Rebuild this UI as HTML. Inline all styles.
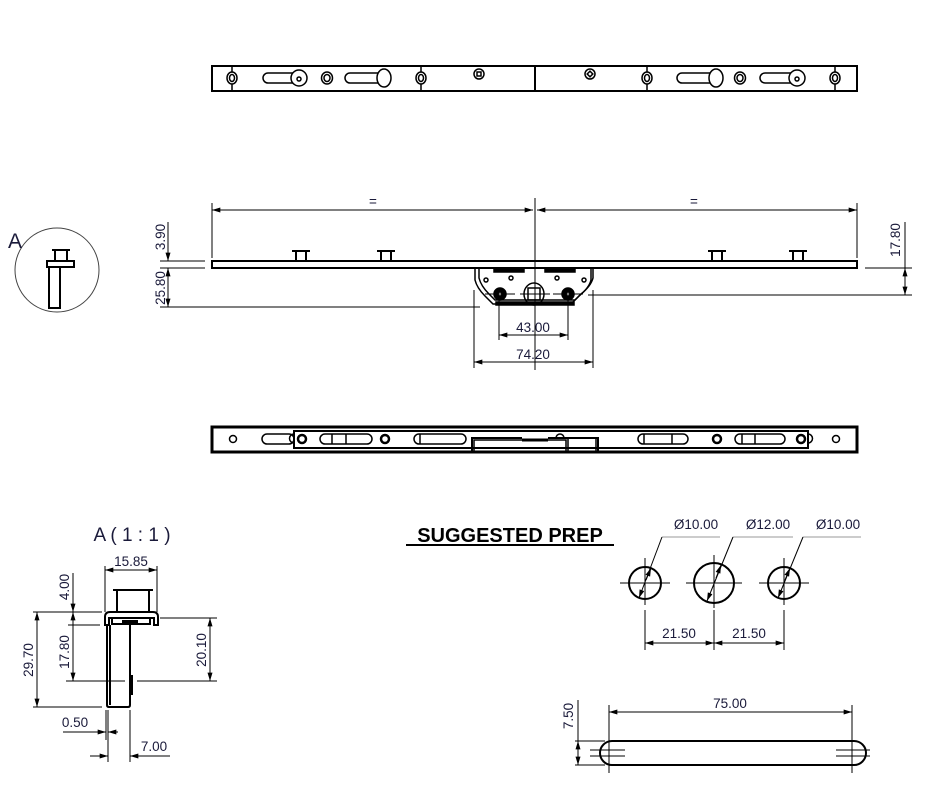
<!DOCTYPE html>
<html><head><meta charset="utf-8"><style>
html,body{margin:0;padding:0;background:#fff;}
svg{display:block;}
text{font-family:"Liberation Sans",sans-serif;fill:#1a1a3a;}
</style></head><body>
<svg width="938" height="793" viewBox="0 0 938 793" xmlns="http://www.w3.org/2000/svg">
<defs>
<marker id="ar" viewBox="0 0 10 6" refX="10" refY="3" markerWidth="9" markerHeight="5" orient="auto-start-reverse" markerUnits="userSpaceOnUse"><path d="M0,0 L10,3 L0,6 z" fill="#000"/></marker>
</defs>
<g fill="none" stroke="#000">
<rect x="212" y="66" width="645" height="25" stroke-width="2"/>
<line x1="535" y1="66" x2="535" y2="91" stroke-width="2"/>
<g stroke-width="1.5">
<line x1="232" y1="66" x2="232" y2="91"/><line x1="421" y1="66" x2="421" y2="91"/>
<line x1="647" y1="66" x2="647" y2="91"/><line x1="835" y1="66" x2="835" y2="91"/>
<ellipse cx="232" cy="78" rx="5" ry="6" fill="#fff"/><ellipse cx="232" cy="78" rx="2.5" ry="3.5"/>
<ellipse cx="421" cy="78" rx="5" ry="6" fill="#fff"/><ellipse cx="421" cy="78" rx="2.5" ry="3.5"/>
<ellipse cx="647" cy="78" rx="5" ry="6" fill="#fff"/><ellipse cx="647" cy="78" rx="2.5" ry="3.5"/>
<ellipse cx="835" cy="78" rx="5" ry="6" fill="#fff"/><ellipse cx="835" cy="78" rx="2.5" ry="3.5"/>
<ellipse cx="327" cy="78" rx="5.5" ry="6"/><ellipse cx="327" cy="78" rx="3" ry="3.5"/>
<ellipse cx="740" cy="78" rx="5.5" ry="6"/><ellipse cx="740" cy="78" rx="3" ry="3.5"/>
<rect x="263" y="73" width="40" height="10" rx="5"/><circle cx="299" cy="78" r="8" fill="#fff"/><circle cx="299" cy="79" r="2"/>
<rect x="345" y="73" width="40" height="10" rx="5"/><ellipse cx="384" cy="78" rx="7" ry="9" fill="#fff"/>
<rect x="677" y="73" width="40" height="10" rx="5"/><ellipse cx="716" cy="78" rx="7" ry="9" fill="#fff"/>
<rect x="760" y="73" width="40" height="10" rx="5"/><circle cx="797" cy="78" r="8" fill="#fff"/><circle cx="797" cy="79" r="2"/>
<circle cx="479" cy="74" r="5"/><rect x="477" y="72" width="4" height="4"/>
<circle cx="590" cy="74" r="5"/><rect x="588" y="72" width="4" height="4" transform="rotate(45 590 74)"/>
</g>

<rect x="212" y="261" width="645" height="7" stroke-width="2"/>
<g stroke-width="2">
<path d="M292,251 h18 M296,251 v10 M306,251 v10"/>
<path d="M377,251 h18 M381,251 v10 M391,251 v10"/>
<path d="M708,251 h18 M712,251 v10 M722,251 v10"/>
<path d="M789,251 h18 M793,251 v10 M803,251 v10"/>
</g>
<g stroke-width="1.5">
<path d="M475,268 v12 q2,8 10,16 l8,8 h78 l8,-8 q10,-8 12,-16 v-12"/>
<path d="M479,268 v10 q2,8 10,16 l6,6 h80 l6,-6 q10,-8 12,-16 v-10"/>
<rect x="494" y="268" width="30" height="4" fill="#000"/><rect x="545" y="268" width="30" height="4" fill="#000"/>
<circle cx="486" cy="280" r="2"/><circle cx="511" cy="278" r="2"/><circle cx="557" cy="278" r="2"/><circle cx="584" cy="280" r="2"/>
<circle cx="500" cy="294" r="6" fill="#000"/><circle cx="500" cy="294" r="2" fill="#fff"/>
<circle cx="568" cy="294" r="6" fill="#000"/><circle cx="568" cy="294" r="2" fill="#fff"/>
<ellipse cx="534" cy="294" rx="10" ry="11"/><rect x="528" y="288" width="12" height="12"/>
<rect x="496" y="302" width="78" height="3" fill="#000"/>
</g>
<g stroke-width="1">
<line x1="212" y1="203" x2="212" y2="258"/><line x1="857" y1="203" x2="857" y2="258"/>
<line x1="535" y1="198" x2="535" y2="370"/>
<line x1="212" y1="210" x2="533" y2="210" marker-start="url(#ar)" marker-end="url(#ar)"/>
<line x1="537" y1="210" x2="857" y2="210" marker-start="url(#ar)" marker-end="url(#ar)"/>
<line x1="160" y1="261" x2="205" y2="261"/><line x1="160" y1="268" x2="205" y2="268"/>
<line x1="160" y1="307" x2="480" y2="307"/>
<line x1="168" y1="222" x2="168" y2="261" marker-end="url(#ar)"/>
<line x1="168" y1="307" x2="168" y2="268" marker-start="url(#ar)" marker-end="url(#ar)"/>
<line x1="865" y1="268" x2="912" y2="268"/><line x1="588" y1="295" x2="912" y2="295"/>
<line x1="905" y1="222" x2="905" y2="268" />
<line x1="905" y1="268" x2="905" y2="295" marker-start="url(#ar)" marker-end="url(#ar)"/>
<line x1="499" y1="300" x2="499" y2="340"/><line x1="568" y1="300" x2="568" y2="340"/>
<line x1="499" y1="335" x2="568" y2="335" marker-start="url(#ar)" marker-end="url(#ar)"/>
<line x1="474" y1="290" x2="474" y2="368"/><line x1="593" y1="290" x2="593" y2="368"/>
<line x1="474" y1="362" x2="593" y2="362" marker-start="url(#ar)" marker-end="url(#ar)"/>
<line x1="485" y1="294" x2="515" y2="294"/><line x1="520" y1="294" x2="550" y2="294"/><line x1="553" y1="294" x2="583" y2="294"/>
</g>

<rect x="212" y="427" width="645" height="25" stroke-width="3"/>
<g stroke-width="1.5">
<path d="M294,431 h514 v17 h-514 z" stroke-width="2"/>
<circle cx="233" cy="439" r="3.5"/><circle cx="836" cy="439" r="3.5"/>
<path d="M294,434 a4,4 0 0 0 0,9"/><rect x="262" y="434" width="32" height="10" rx="5"/>
<path d="M808,434 a4,4 0 0 1 0,9"/>
<circle cx="302" cy="439" r="4" stroke-width="2.5"/><circle cx="385" cy="439" r="4" stroke-width="2.5"/>
<circle cx="717" cy="439" r="4" stroke-width="2.5"/><circle cx="801" cy="439" r="4" stroke-width="2.5"/>
<rect x="320" y="434" width="52" height="10" rx="5"/><line x1="332" y1="434" x2="332" y2="444"/><line x1="346" y1="434" x2="346" y2="444"/>
<rect x="414" y="434" width="52" height="10" rx="5"/><line x1="420" y1="434" x2="420" y2="444"/>
<rect x="638" y="434" width="50" height="10" rx="5"/><line x1="644" y1="434" x2="644" y2="444"/><line x1="672" y1="434" x2="672" y2="444"/>
<rect x="735" y="434" width="50" height="10" rx="5"/><line x1="742" y1="434" x2="742" y2="444"/><line x1="755" y1="434" x2="755" y2="444"/>
<path d="M472,452 v-14 h50 M548,438 h50 v14" stroke-width="2"/>
<rect x="474" y="440" width="92" height="12"/><rect x="568" y="438" width="28" height="14"/>
<line x1="522" y1="440" x2="548" y2="440" stroke-width="3"/>
<path d="M556,438 a4,4 0 0 1 8,0"/>
</g>

<circle cx="57" cy="270" r="42" stroke-width="1" stroke="#444"/>
<g stroke-width="2">
<path d="M52,250 h18 M55,250 v11 M67,250 v11"/>
<rect x="47" y="261" width="27" height="6"/>
<rect x="49" y="267" width="11" height="41"/>
<line x1="60" y1="290" x2="60" y2="303"/>
</g>

<g stroke-width="2">
<path d="M113,590 h40 M117,590 v22 M149,590 v22"/>
<path d="M105,625 v-8 q0,-5 5,-5 h43 q5,0 5,5 v8 h-4 v-7 h-45 v7 z"/>
<path d="M112,618 v6 h38 v-6"/>
<rect x="122" y="620" width="16" height="5" fill="#000" stroke="none"/>
<path d="M107,625 v80 q0,2 2,2 h19 q2,0 2,-2 v-80"/>
<line x1="110" y1="625" x2="110" y2="705"/>
<line x1="132" y1="675" x2="132" y2="695"/>
</g>
<g stroke-width="1">
<line x1="105" y1="566" x2="105" y2="612"/><line x1="157" y1="566" x2="157" y2="612"/>
<line x1="105" y1="570" x2="157" y2="570" marker-start="url(#ar)" marker-end="url(#ar)"/>
<line x1="73" y1="573" x2="73" y2="612" marker-end="url(#ar)"/>
<line x1="73" y1="612" x2="73" y2="681" marker-start="url(#ar)" marker-end="url(#ar)"/>
<line x1="37" y1="612" x2="37" y2="707" marker-start="url(#ar)" marker-end="url(#ar)"/>
<line x1="210" y1="618" x2="210" y2="681" marker-start="url(#ar)" marker-end="url(#ar)"/>
<line x1="33" y1="612" x2="102" y2="612"/><line x1="68" y1="625" x2="100" y2="625"/>
<line x1="66" y1="681" x2="125" y2="681"/><line x1="137" y1="681" x2="217" y2="681"/>
<line x1="33" y1="707" x2="102" y2="707"/><line x1="160" y1="618" x2="217" y2="618"/>
<line x1="106" y1="710" x2="106" y2="740"/><line x1="108" y1="710" x2="108" y2="762"/><line x1="130" y1="710" x2="130" y2="762"/>
<line x1="63" y1="732" x2="106" y2="732"/><line x1="96" y1="732" x2="106" y2="732" marker-end="url(#ar)"/>
<line x1="118" y1="732" x2="108" y2="732" marker-end="url(#ar)"/>
<line x1="90" y1="756" x2="108" y2="756" marker-end="url(#ar)"/>
<line x1="170" y1="756" x2="130" y2="756" marker-end="url(#ar)"/>
</g>

<line x1="406" y1="545" x2="614" y2="545" stroke-width="2"/>
<g stroke-width="2">
<circle cx="645" cy="583" r="16"/><circle cx="714" cy="583" r="20"/><circle cx="784" cy="583" r="16"/>
</g>
<g stroke-width="1">
<line x1="620" y1="583" x2="670" y2="583"/><line x1="645" y1="558" x2="645" y2="605"/>
<line x1="686" y1="583" x2="742" y2="583"/><line x1="714" y1="555" x2="714" y2="608"/>
<line x1="759" y1="583" x2="809" y2="583"/><line x1="784" y1="558" x2="784" y2="605"/>
<line x1="662" y1="537" x2="720" y2="537" stroke="#999"/><line x1="662" y1="537" x2="639" y2="598" marker-end="url(#ar)"/><line x1="651" y1="568" x2="646" y2="580" marker-start="url(#ar)"/>
<line x1="733" y1="537" x2="793" y2="537" stroke="#999"/><line x1="733" y1="537" x2="707" y2="601" marker-end="url(#ar)"/><line x1="721" y1="565" x2="716" y2="578" marker-start="url(#ar)"/>
<line x1="803" y1="537" x2="861" y2="537" stroke="#999"/><line x1="803" y1="537" x2="778" y2="598" marker-end="url(#ar)"/><line x1="790" y1="568" x2="785" y2="580" marker-start="url(#ar)"/>
<line x1="645" y1="610" x2="645" y2="650"/><line x1="714" y1="610" x2="714" y2="650"/><line x1="784" y1="610" x2="784" y2="650"/>
<line x1="645" y1="643" x2="714" y2="643" marker-start="url(#ar)" marker-end="url(#ar)"/>
<line x1="714" y1="643" x2="784" y2="643" marker-start="url(#ar)" marker-end="url(#ar)"/>
</g>
<rect x="600" y="741" width="266" height="24" rx="12" stroke-width="2"/>
<g stroke-width="1">
<line x1="609" y1="705" x2="609" y2="773"/><line x1="852" y1="705" x2="852" y2="773"/>
<line x1="609" y1="712" x2="852" y2="712" marker-start="url(#ar)" marker-end="url(#ar)"/>
<line x1="590" y1="750" x2="625" y2="750"/><line x1="590" y1="756" x2="625" y2="756"/>
<line x1="836" y1="750" x2="870" y2="750"/><line x1="836" y1="756" x2="870" y2="756"/>
<line x1="575" y1="741" x2="605" y2="741"/><line x1="575" y1="765" x2="605" y2="765"/>
<line x1="578" y1="741" x2="578" y2="765" marker-start="url(#ar)" marker-end="url(#ar)"/>
<line x1="578" y1="700" x2="578" y2="741"/>
</g>
</g>

<g font-size="13.5">
<text x="373" y="206" text-anchor="middle">=</text>
<text x="694" y="206" text-anchor="middle">=</text>
<text transform="translate(165,237) rotate(-90)" text-anchor="middle">3.90</text>
<text transform="translate(165,288) rotate(-90)" text-anchor="middle">25.80</text>
<text transform="translate(900,240) rotate(-90)" text-anchor="middle">17.80</text>
<text x="533" y="332" text-anchor="middle">43.00</text>
<text x="533" y="359" text-anchor="middle">74.20</text>
<text x="131" y="566" text-anchor="middle">15.85</text>
<text transform="translate(69,587) rotate(-90)" text-anchor="middle">4.00</text>
<text transform="translate(69,652) rotate(-90)" text-anchor="middle">17.80</text>
<text transform="translate(33,660) rotate(-90)" text-anchor="middle">29.70</text>
<text transform="translate(206,650) rotate(-90)" text-anchor="middle">20.10</text>
<text x="75" y="727" text-anchor="middle">0.50</text>
<text x="154" y="751" text-anchor="middle">7.00</text>
<text x="696" y="529" text-anchor="middle">Ø10.00</text>
<text x="768" y="529" text-anchor="middle">Ø12.00</text>
<text x="838" y="529" text-anchor="middle">Ø10.00</text>
<text x="679" y="638" text-anchor="middle">21.50</text>
<text x="749" y="638" text-anchor="middle">21.50</text>
<text x="730" y="708" text-anchor="middle">75.00</text>
<text transform="translate(573,716) rotate(-90)" text-anchor="middle">7.50</text>
</g>
<text x="8" y="248" font-size="21">A</text>
<text x="132" y="541" font-size="19" text-anchor="middle">A ( 1 : 1 )</text>
<text x="510" y="542" font-size="20" font-weight="bold" text-anchor="middle" style="fill:#000">SUGGESTED PREP</text>
</svg>
</body></html>
